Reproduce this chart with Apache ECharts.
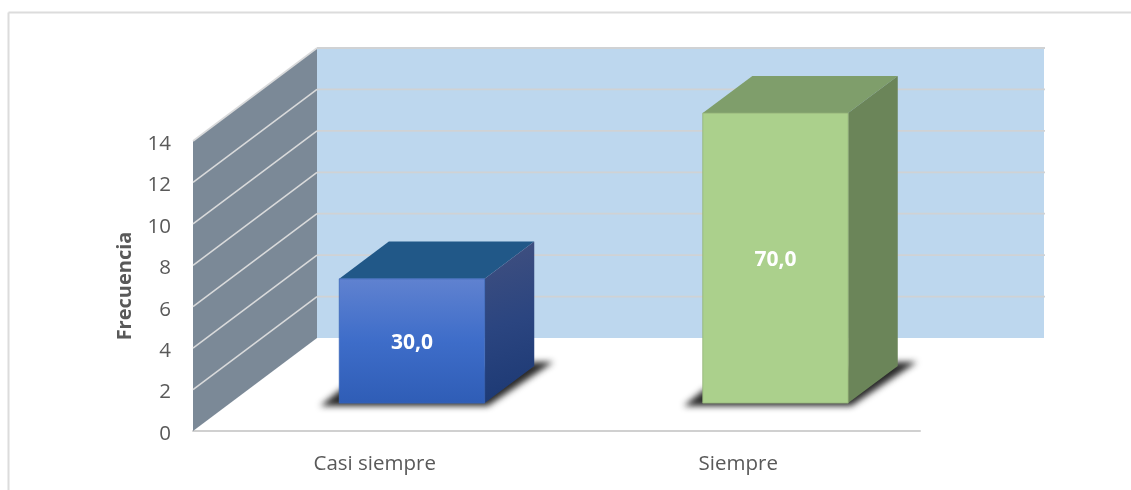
<!DOCTYPE html>
<html><head><meta charset="utf-8">
<style>html,body{margin:0;padding:0;background:#fff}#c{width:1131px;height:490px}</style>
<script src="https://cdn.jsdelivr.net/npm/echarts@6/dist/echarts.min.js"></script>
</head><body><div id="c"></div>
<script>
const categories = ["Casi siempre", "Siempre"];
const frequencies = [6, 14];
const percentLabels = ["30,0", "70,0"];
const yTicks = [0, 2, 4, 6, 8, 10, 12, 14];

const DX = 124, DY = 93, FRONT = 0.30, BAR_DEPTH = 0.40, BAR_WIDTH = 0.40;
const LG = (x0, y0, x1, y1, stops) => new echarts.graphic.LinearGradient(x0, y0, x1, y1,
  stops.map((c, i) => ({ offset: i / (stops.length - 1), color: c })));
const palettes = [
  { front: LG(0, 0, 0, 1, ["#6082D0", "#3E6DC9", "#2F5DB6"]), top: "#215888",
    side: LG(0, 0, 1, 1, ["#41507F", "#2B4580", "#1B3873"]), edge: "#3A66B8" },
  { front: "#ABD08C", top: "#7F9E6B", side: "#6B8559", edge: "#94B27A" }
];

function wallItem(params, api) {
  const i = params.dataIndex, cs = params.coordSys;
  const y = api.coord([0, api.value(1)])[1];
  const L = cs.x, R = cs.x + cs.width, children = [];
  if (i === 0) {
    const yb = y, yt = cs.y;
    children.push({ type: "polygon", z2: 1, shape: { points: [[L + DX, yt - DY], [R + DX, yt - DY], [R + DX, yb - DY], [L + DX, yb - DY]] },
      style: { fill: "#BDD7EE" } });
    children.push({ type: "polygon", z2: 1, shape: { points: [[L, yt], [L + DX, yt - DY], [L + DX, yb - DY], [L, yb]] },
      style: { fill: "#7B8997" } });
  } else {
    children.push({ type: "line", z2: 2, shape: { x1: L, y1: y, x2: L + DX, y2: y - DY }, style: { stroke: "#D9DADB", lineWidth: 1.6 } });
    children.push({ type: "line", z2: 2, shape: { x1: L + DX, y1: y - DY, x2: R + DX + 1, y2: y - DY }, style: { stroke: "#D0D2D4", lineWidth: 1.8 } });
  }
  return { type: "group", children };
}

const OFF = 3000;
function shadowItem(params, api) {
  const base = api.coord([api.value(0), 0]);
  const w = api.size([1, 0])[0] * BAR_WIDTH;
  const cx = base[0] + DX * FRONT, y = base[1] - DY * FRONT;
  const l = cx - w / 2, r = cx + w / 2, dx = DX * BAR_DEPTH, dy = DY * BAR_DEPTH;
  return { type: "polygon", x: -OFF,
    shape: { points: [[l - 19, y + 3], [l + 2, y - 14], [r + dx, y - dy - 4], [r + dx + 19, y - dy - 4], [r + 3, y + 3]] },
    style: { fill: "#333", shadowBlur: 6, shadowOffsetX: OFF, shadowColor: "rgba(30,30,30,0.95)" } };
}

function barItem(params, api) {
  const i = params.dataIndex, p = palettes[i];
  const top = api.coord([api.value(0), api.value(1)]);
  const base = api.coord([api.value(0), 0]);
  const w = api.size([1, 0])[0] * BAR_WIDTH;
  const cx = top[0] + DX * FRONT;
  const yT = top[1] - DY * FRONT, yB = base[1] - DY * FRONT;
  const l = cx - w / 2, r = cx + w / 2, dx = DX * BAR_DEPTH, dy = DY * BAR_DEPTH;
  return { type: "group", children: [
    { type: "polygon", shape: { points: [[l, yT], [r, yT], [r + dx, yT - dy], [l + dx, yT - dy]] }, style: { fill: p.top } },
    { type: "polygon", shape: { points: [[r, yT], [r + dx, yT - dy], [r + dx, yB - dy], [r, yB]] }, style: { fill: p.side } },
    { type: "rect", shape: { x: l, y: yT, width: w, height: yB - yT }, style: { fill: p.front, stroke: p.edge, lineWidth: 0.8 } },
    { type: "text", z2: 10, style: { x: cx, y: (yT + yB) / 2 + 2, text: percentLabels[i], align: "center", verticalAlign: "middle",
      fill: "#fff", font: "bold 21px 'Open Sans'" } }
  ] };
}

const chart = echarts.init(document.getElementById("c"), null, { renderer: "canvas" });
chart.setOption({
  animation: false,
  backgroundColor: "#fff",
  textStyle: { fontFamily: "Open Sans" },
  graphic: [
    { type: "line", silent: true, shape: { x1: 8.5, y1: 12.5, x2: 1131, y2: 12.5 }, style: { stroke: "#DCDCDC", lineWidth: 2 } },
    { type: "line", silent: true, shape: { x1: 8.5, y1: 12.5, x2: 8.5, y2: 490 }, style: { stroke: "#DCDCDC", lineWidth: 2 } }
  ],
  grid: { left: 193, right: 211, top: 141, bottom: 59 },
  xAxis: { type: "category", data: categories, boundaryGap: true,
    axisTick: { show: false },
    axisLine: { show: true, lineStyle: { color: "#D0D0D0", width: 2 } },
    axisLabel: { color: "#595959", fontSize: 20.5, margin: 23, fontFamily: "Open Sans" },
    splitLine: { show: false } },
  yAxis: { type: "value", min: 0, max: 14, interval: 2,
    name: "Frecuencia", nameLocation: "middle", nameGap: 58, nameRotate: 90,
    nameTextStyle: { color: "#595959", fontSize: 20, fontWeight: "bold", fontFamily: "Open Sans" },
    axisLine: { show: false }, axisTick: { show: false }, splitLine: { show: false },
    axisLabel: { margin: 22, formatter: "{t|{value}}",
      rich: { t: { color: "#595959", fontSize: 20.5, fontFamily: "Open Sans", padding: [6, 0, 0, 0] } } } },
  series: [
    { type: "custom", name: "walls", clip: false, z: 1, renderItem: wallItem, silent: true,
      encode: { x: 0, y: 1 }, data: yTicks.map(t => [0, t]) },
    { type: "custom", name: "shadow", clip: false, z: 2, renderItem: shadowItem, silent: true,
      encode: { x: 0, y: 1 }, data: frequencies.map((v, i) => [i, v]) },
    { type: "custom", name: "Frecuencia", clip: false, z: 3, renderItem: barItem,
      encode: { x: 0, y: 1 }, data: frequencies.map((v, i) => [i, v]) }
  ]
});
</script></body></html>
